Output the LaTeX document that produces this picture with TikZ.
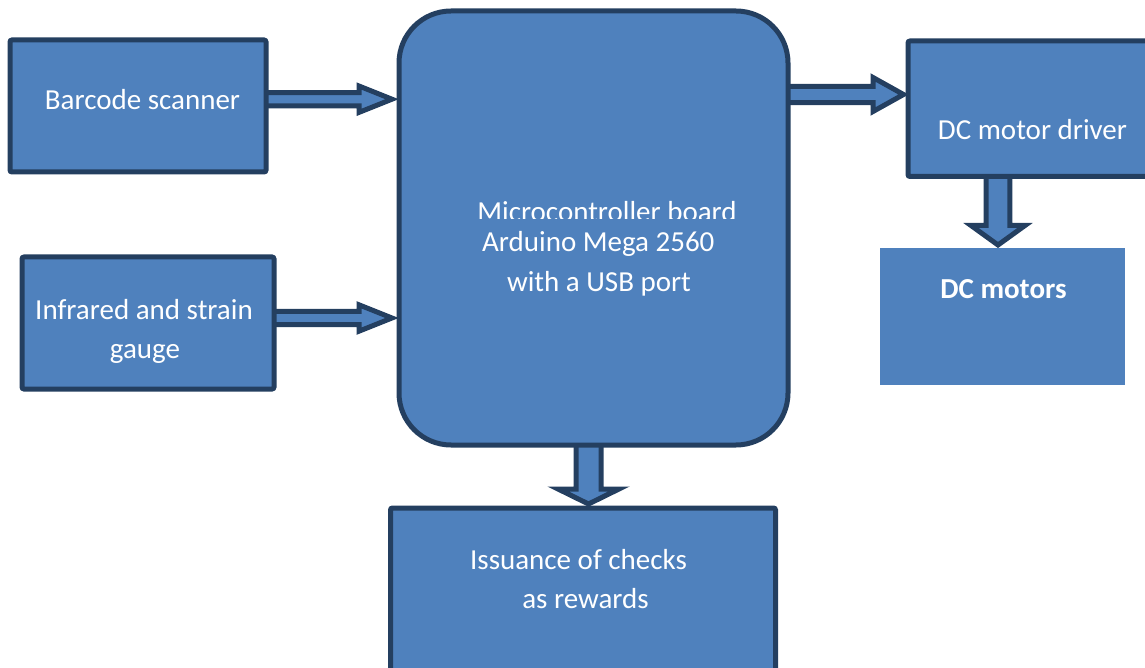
\documentclass[tikz,border=0pt]{standalone}
\usepackage{fontspec}
\setmainfont{Carlito}
\usetikzlibrary{backgrounds,calc}
\definecolor{boxfill}{HTML}{4F81BD}
\definecolor{boxline}{HTML}{243F60}
\tikzset{
  box/.style={draw=boxline, fill=boxfill, line width=5pt, rounded corners=2pt,
    outer sep=0pt, inner sep=0pt, anchor=north west},
  plainbox/.style={fill=boxfill, outer sep=0pt, inner sep=0pt, anchor=north west},
  lbl/.style={text=white, font=\fontsize{29}{35}\selectfont, anchor=base, inner sep=0pt},
  blockarrow/.style={draw=boxline, fill=boxfill, line width=5pt, line join=miter}
}
% horizontal block arrow: src, dst, y, shaft half, head half, head length, tip offset
\newcommand\harrowlink[7]{%
  \draw[blockarrow] let \p1=(#1.east), \p2=(#2.west) in
    ({\x1-8pt},{-#3pt+#4pt}) -- ({\x2-#7pt-#6pt},{-#3pt+#4pt}) --
    ({\x2-#7pt-#6pt},{-#3pt+#5pt}) -- ({\x2-#7pt},{-#3pt}) --
    ({\x2-#7pt-#6pt},{-#3pt-#5pt}) -- ({\x2-#7pt-#6pt},{-#3pt-#4pt}) --
    ({\x1-8pt},{-#3pt-#4pt}) -- cycle;}
% vertical block arrow: src, dst, x, shaft half, head half, head length, tip offset
\newcommand\varrowlink[7]{%
  \draw[blockarrow] let \p1=(#1.south), \p2=(#2.north) in
    ({#3pt-#4pt},{\y1+8pt}) -- ({#3pt-#4pt},{\y2+#7pt+#6pt}) --
    ({#3pt-#5pt},{\y2+#7pt+#6pt}) -- ({#3pt},{\y2+#7pt}) --
    ({#3pt+#5pt},{\y2+#7pt+#6pt}) -- ({#3pt+#4pt},{\y2+#7pt+#6pt}) --
    ({#3pt+#4pt},{\y1+8pt}) -- cycle;}
\begin{document}
\begin{tikzpicture}[x=1pt,y=-1pt]
\useasboundingbox (0,0) rectangle (1145,668);
\clip (0,0) rectangle (1145,668);
% boxes
\node[box, minimum width=256pt, minimum height=132pt] (bar) at (10,40) {};
\node[box, minimum width=252pt, minimum height=132pt] (inf) at (22,257) {};
\node[box, rounded corners=52pt, minimum width=389pt, minimum height=434pt] (mcu) at (399,11) {};
\node[box, minimum width=260pt, minimum height=135.5pt] (drv) at (908,41) {};
\node[plainbox, minimum width=245pt, minimum height=136.7pt] (mot) at (880,248.3) {};
\node[box, minimum width=385pt, minimum height=200pt] (iss) at (390.5,508) {};
% arrows (behind boxes)
\begin{pgfonlayer}{background}
\harrowlink{bar}{mcu}{99.2}{6.6}{13.2}{33}{7}
\harrowlink{inf}{mcu}{318}{6.6}{13.2}{33}{7}
\harrowlink{mcu}{drv}{94.5}{8.2}{17}{30.5}{4.5}
\varrowlink{drv}{mot}{998}{11.8}{27}{19.5}{3.3}
\varrowlink{mcu}{iss}{588.5}{12.5}{30.5}{15}{4}
\end{pgfonlayer}
% texts
\node[lbl] (tbar) at (142.5,109.3) {Barcode scanner};
\node[lbl] (tinf1) at (144,319.3) {Infrared and strain};
\node[lbl] (tinf2) at (145,358.3) {gauge};
\node[lbl] (tdrv) at (1032.5,140) {DC motor driver};
\node[lbl, font={\fontsize{29}{35}\selectfont\bfseries}] (tmot) at (1003.5,298.3) {DC motors};
\node[lbl] (tiss1) at (578.5,569.3) {Issuance of checks};
\node[lbl] (tiss2) at (585.5,608.3) {as rewards};
\node[lbl] (tmcu2) at (598.3,251.7) {Arduino Mega 2560};
\node[lbl] (tmcu3) at (599,291.7) {with a USB port};
\begin{scope}
\clip (410,190) rectangle (780,218.5);
\node[lbl] (tmcu1) at (607,221.6) {Microcontroller board};
\end{scope}
\end{tikzpicture}
\end{document}
